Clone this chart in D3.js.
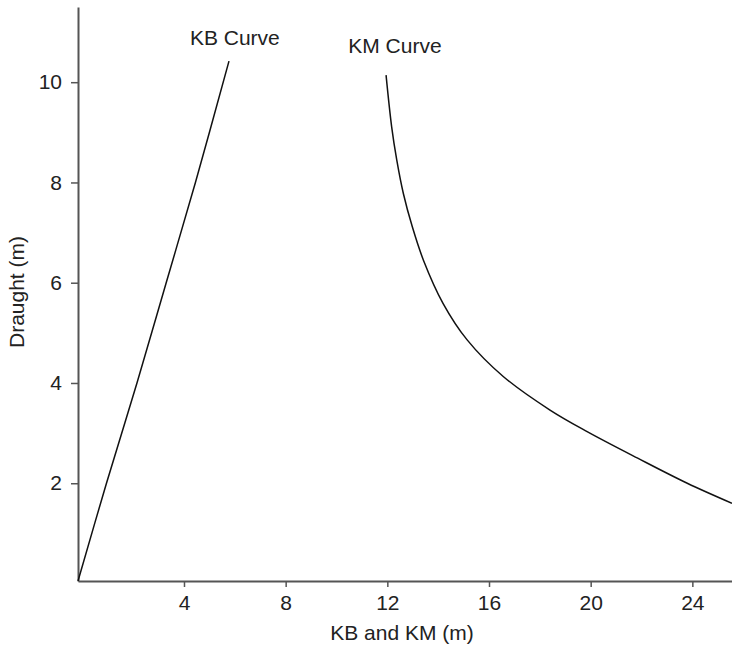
<!DOCTYPE html>
<html>
<head>
<meta charset="utf-8">
<script src="https://cdn.jsdelivr.net/npm/d3@7"></script>
<style>
  html, body { margin: 0; padding: 0; background: #fff; }
  svg { display: block; }
  text { font-family: "Liberation Sans", Arial, Helvetica, sans-serif; fill: #222; }
</style>
</head>
<body>
<svg id="chart" width="732" height="647"></svg>
<script>
// ---- data ----
const kbDraught = [0.05, 2, 4, 6, 8, 10.42];
const kbValue   = [-0.17, 0.95, 2.15, 3.3, 4.45, 5.77];

const kmDraught = [10.14, 9.11, 8.45, 7.78, 7.12, 6.45, 5.59, 4.86, 4.13, 3.46, 3.03, 2.50, 2.00, 1.60];
const kmValue   = [11.95, 12.17, 12.37, 12.63, 12.98, 13.42, 14.19, 15.14, 16.56, 18.40, 19.86, 21.85, 23.80, 25.56];

const xTicks = [4, 8, 12, 16, 20, 24];
const yTicks = [2, 4, 6, 8, 10];

const curveLabels = ["KB Curve", "KM Curve"];
const labelX = [6.0, 12.3];
const labelY = [10.74, 10.58];

const xTitle = "KB and KM (m)";
const yTitle = "Draught (m)";

// ---- layout ----
const svg = d3.select("#chart");
const x = d3.scaleLinear().domain([-0.17, 25.56]).range([78, 732]);
const y = d3.scaleLinear().domain([0.05, 11.5]).range([581, 7]);

const axisColor = "#555";
const fontSize = 21;

// X axis
const gx = svg.append("g")
  .attr("transform", `translate(0,${y.range()[0]})`)
  .call(d3.axisBottom(x).tickValues(xTicks).tickSize(6).tickSizeOuter(0).tickPadding(8).tickFormat(d3.format("d")));
gx.select(".domain").attr("stroke", axisColor).attr("stroke-width", 2);
gx.selectAll(".tick line").attr("stroke", axisColor).attr("stroke-width", 1.5);
gx.selectAll(".tick text").attr("font-size", fontSize).attr("fill", "#222")
  .attr("font-family", "Liberation Sans, Arial, sans-serif");

// Y axis
const gy = svg.append("g")
  .attr("transform", `translate(${x.range()[0]},0)`)
  .call(d3.axisLeft(y).tickValues(yTicks).tickSize(7).tickSizeOuter(0).tickPadding(9).tickFormat(d3.format("d")));
gy.select(".domain").attr("stroke", axisColor).attr("stroke-width", 2);
gy.selectAll(".tick line").attr("stroke", axisColor).attr("stroke-width", 1.5);
gy.selectAll(".tick text").attr("font-size", fontSize).attr("fill", "#222")
  .attr("font-family", "Liberation Sans, Arial, sans-serif");

// Curves
const kb = kbValue.map((v, i) => ({ x: v, y: kbDraught[i] }));
const km = kmValue.map((v, i) => ({ x: v, y: kmDraught[i] }));

svg.append("path")
  .datum(kb)
  .attr("fill", "none")
  .attr("stroke", "#111")
  .attr("stroke-width", 1.5)
  .attr("d", d3.line().x(d => x(d.x)).y(d => y(d.y)).curve(d3.curveCatmullRom.alpha(0.5)));

svg.append("path")
  .datum(km)
  .attr("fill", "none")
  .attr("stroke", "#111")
  .attr("stroke-width", 1.5)
  .attr("d", d3.line().x(d => x(d.x)).y(d => y(d.y)).curve(d3.curveCatmullRom.alpha(0.5)));

// Curve labels
svg.selectAll(".curve-label")
  .data(curveLabels)
  .enter().append("text")
  .attr("class", "curve-label")
  .attr("x", (d, i) => x(labelX[i]))
  .attr("y", (d, i) => y(labelY[i]))
  .attr("text-anchor", "middle")
  .attr("font-size", fontSize)
  .text(d => d);

// Axis titles
svg.append("text")
  .attr("x", 402)
  .attr("y", 640)
  .attr("text-anchor", "middle")
  .attr("font-size", fontSize)
  .text(xTitle);

svg.append("text")
  .attr("transform", "translate(24,292) rotate(-90)")
  .attr("text-anchor", "middle")
  .attr("font-size", fontSize)
  .text(yTitle);
</script>
</body>
</html>
